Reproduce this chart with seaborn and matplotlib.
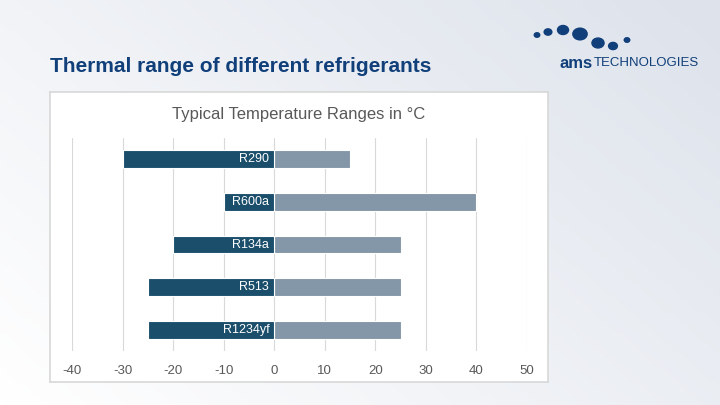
import matplotlib
matplotlib.use("Agg")
import matplotlib.pyplot as plt
import seaborn as sns
import numpy as np
import pandas as pd

refrigerants = ["R290", "R600a", "R134a", "R513", "R1234yf"]
min_temp = [-30, -10, -20, -25, -25]
max_temp = [15, 40, 25, 25, 25]
ticks = [-40, -30, -20, -10, 0, 10, 20, 30, 40, 50]

sns.set_theme(style="white")
plt.rcParams['font.family'] = ['Liberation Sans', 'DejaVu Sans']

fig = plt.figure(figsize=(7.2, 4.05), dpi=100)
bg = fig.add_axes([0, 0, 1, 1], zorder=-10)
X, Y = np.meshgrid(np.linspace(0, 1, 200), np.linspace(0, 1, 120))
bg.imshow(0.6 * X + 0.4 * Y, cmap=matplotlib.colors.LinearSegmentedColormap.from_list("g", ["#ffffff", "#dde2eb"]), aspect="auto", extent=[0, 1, 0, 1], origin="lower")
bg.axis("off")

panel = fig.add_axes([50/720, 1-382/405, 498/720, 290/405], zorder=-5)
panel.set_facecolor("white")
panel.set_xticks([]); panel.set_yticks([])
for s in panel.spines.values():
    s.set_color("#d9d9d9")

fig.text(50/720, 1-66/405, "Thermal range of different refrigerants", color="#103f7a",
         fontsize=15, fontweight="bold", va="center", ha="left")
fig.text(299/720, 1-115/405, "Typical Temperature Ranges in °C", color="#595959",
         fontsize=12, ha="center", va="center")

dots = [(537, 35, 2.5), (548, 32, 3.5), (563, 30, 5), (580, 34, 6.5), (598, 43, 5.5), (613, 46, 4), (627, 40, 2.5)]
for x, y, r in dots:
    fig.patches.append(matplotlib.patches.Ellipse((x/720, 1-y/405), 2*r/720*1.1, 2*r/405*0.9, color="#103f7a", transform=fig.transFigure))
fig.text(560/720, 1-63/405, "ams", color="#103f7a", fontsize=12, fontweight="bold", va="center")
fig.text(594/720, 1-63/405, "TECHNOLOGIES", color="#103f7a", fontsize=9.5, va="center")

ax = fig.add_axes([72/720, 1-351/405, 455/720, 213/405])
ax.patch.set_alpha(0)
df = pd.DataFrame({"name": refrigerants, "min": min_temp, "max": max_temp})
sns.barplot(data=df, y="name", x="max", color="#8497a8", saturation=1, width=0.42, ax=ax, orient="h", edgecolor="white", linewidth=0.8)
sns.barplot(data=df, y="name", x="min", color="#1a4e6b", saturation=1, width=0.42, ax=ax, orient="h", edgecolor="white", linewidth=0.8)
for i, n in enumerate(refrigerants):
    ax.text(-1, i, n, color="white", ha="right", va="center", fontsize=9)
ax.set_xlim(-40, 50)
ax.set_ylim(4.5, -0.5)
ax.set_xticks(ticks)
ax.set_xticklabels([str(t) for t in ticks], color="#595959", fontsize=9.5)
ax.tick_params(axis="x", length=0, pad=10)
ax.set_yticks([])
ax.set_xlabel(""); ax.set_ylabel("")
ax.grid(axis="x", color="#d9d9d9", linewidth=0.8)
ax.set_axisbelow(True)
for s in ax.spines.values():
    s.set_visible(False)

fig.savefig("out.png", dpi=100)
